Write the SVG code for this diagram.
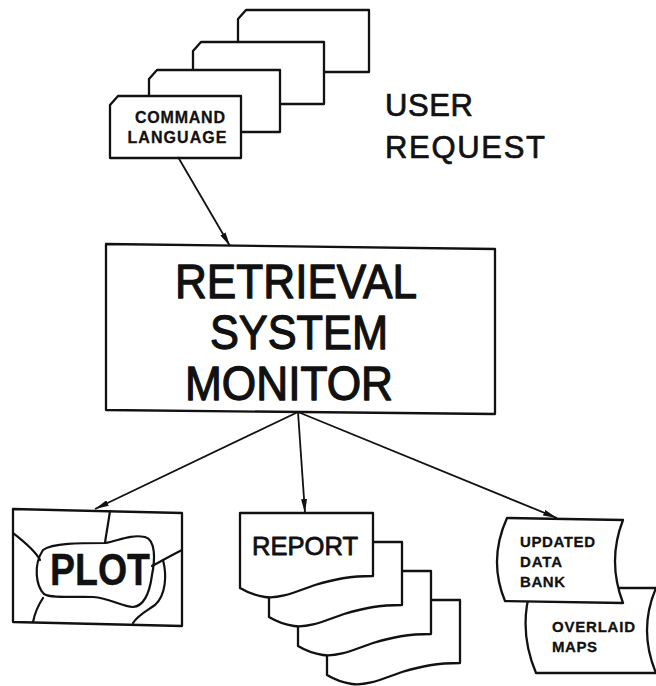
<svg xmlns="http://www.w3.org/2000/svg" width="656" height="686" viewBox="0 0 656 686">
  <style>
    .shape { fill: #fff; stroke: #111; stroke-width: 2.3; stroke-linejoin: round; }
    .line { fill: none; stroke: #111; stroke-width: 2.2; stroke-linecap: round; }
    .conn { fill: none; stroke: #111; stroke-width: 1.8; }
    text { font-family: "Liberation Sans", Arial, sans-serif; fill: #111; stroke: #111; stroke-linejoin: round; }
    .small { font-size: 16px; font-weight: bold; stroke-width: 0.3; }
    .tiny { font-size: 15px; font-weight: bold; stroke-width: 0.3; }
    .big { font-size: 49px; text-anchor: middle; stroke-width: 1.3; }
    .label { font-size: 31px; stroke-width: 0.7; }
  </style>
  <defs>
    <marker id="arrow" markerWidth="14" markerHeight="6" refX="14" refY="3" orient="auto" markerUnits="userSpaceOnUse">
      <path d="M0,0 L14,3 L0,6 Z" fill="#111" stroke="none"/>
    </marker>
    <!-- punched card with a clipped corner -->
    <path id="card" d="M0,9 L8,0 H131 V62 H0 Z"/>
    <!-- printed page with a torn, wavy lower edge -->
    <path id="page" d="M0,0 H133 V63 C110,63 95,66 75,72 C55,79 40,86 25,84 C12,82 5,78 0,75 Z"/>
  </defs>

  <!-- command language deck -->
  <g id="command-language">
    <use href="#card" class="shape" x="238" y="10"/>
    <use href="#card" class="shape" x="193" y="42"/>
    <use href="#card" class="shape" x="149" y="70"/>
    <use href="#card" class="shape" x="110" y="96"/>
    <text class="small" x="180" y="123" text-anchor="middle" textLength="90">COMMAND</text>
    <text class="small" x="177" y="143" text-anchor="middle" textLength="99">LANGUAGE</text>
  </g>

  <g id="user-request">
    <text class="label" x="385" y="116" textLength="88">USER</text>
    <text class="label" x="385" y="158" textLength="160">REQUEST</text>
  </g>

  <!-- central monitor -->
  <g id="retrieval-monitor">
    <path class="shape" d="M106,244 L495,249 L495,414 L106,410 Z"/>
    <text class="big" x="296" y="298" textLength="242" lengthAdjust="spacingAndGlyphs">RETRIEVAL</text>
    <text class="big" x="299" y="349" textLength="178" lengthAdjust="spacingAndGlyphs">SYSTEM</text>
    <text class="big" x="289" y="400" textLength="208" lengthAdjust="spacingAndGlyphs">MONITOR</text>
  </g>

  <!-- map plot -->
  <g id="plot">
    <path class="shape" d="M13,509 L182,513 L182,626 L13,622 Z"/>
    <path class="line" d="M43,550 C52,543 80,543 105,543 C118,541 130,534 145,537 C156,540 155,560 152,575 C150,590 145,606 133,607 C122,607 110,598 93,597 C75,596 52,599 44,594 C36,586 33,565 43,550 Z"/>
    <path class="line" d="M110,511 C108,525 106,535 105,543"/>
    <path class="line" d="M13,533 C22,540 35,550 40,560"/>
    <path class="line" d="M43,598 C39,604 35,612 33,622"/>
    <path class="line" d="M152,566 C158,563 170,556 182,550"/>
    <path class="line" d="M163,560 C167,575 166,595 155,605 C145,612 138,615 133,623"/>
    <text x="100" y="585" text-anchor="middle" font-size="44" font-weight="bold" stroke-width="0.4" textLength="100" lengthAdjust="spacingAndGlyphs">PLOT</text>
  </g>

  <!-- report pages -->
  <g id="report">
    <use href="#page" class="shape" x="327" y="600"/>
    <use href="#page" class="shape" x="298" y="571"/>
    <use href="#page" class="shape" x="269" y="542"/>
    <use href="#page" class="shape" x="240" y="513"/>
    <text x="252" y="555" font-size="25" stroke-width="0.8" textLength="106" lengthAdjust="spacingAndGlyphs">REPORT</text>
  </g>

  <!-- stored data outputs -->
  <g id="overlaid-maps">
    <path class="shape" d="M531,588 L656,588 Q638,630 656,673 L536,673 Q518,630 531,588 Z"/>
    <text class="tiny" x="552" y="632" textLength="83">OVERLAID</text>
    <text class="tiny" x="552" y="652" textLength="45">MAPS</text>
  </g>
  <g id="updated-data-bank">
    <path class="shape" d="M507,518 L623,520 Q607,561 623,603 L505,601 Q488,560 507,518 Z"/>
    <text class="tiny" x="520" y="547" textLength="75">UPDATED</text>
    <text class="tiny" x="520" y="567" textLength="42">DATA</text>
    <text class="tiny" x="520" y="587" textLength="45">BANK</text>
  </g>

  <g id="connectors">
    <line class="conn" x1="178" y1="157" x2="230" y2="246" marker-end="url(#arrow)"/>
    <line class="conn" x1="298" y1="412" x2="95" y2="509" marker-end="url(#arrow)"/>
    <line class="conn" x1="298" y1="412" x2="305" y2="513" marker-end="url(#arrow)"/>
    <line class="conn" x1="298" y1="412" x2="557" y2="518" marker-end="url(#arrow)"/>
  </g>
</svg>
